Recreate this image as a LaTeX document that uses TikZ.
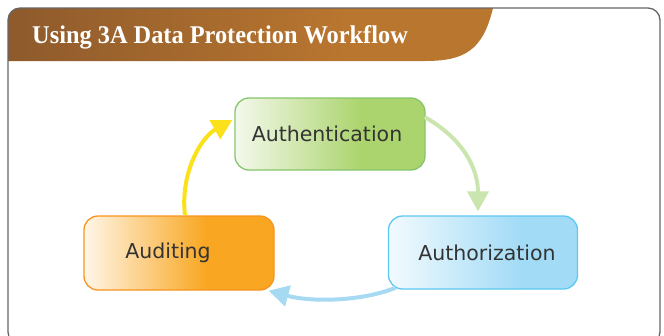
\documentclass[tikz,border=0pt]{standalone}
\usepackage{fontspec}
\setmainfont{Liberation Serif}
\newfontfamily\boxfont{DejaVu Sans}
\usetikzlibrary{arrows.meta}
\definecolor{gL}{HTML}{F4F9EC}
\definecolor{gR}{HTML}{ACD46E}
\definecolor{gB}{HTML}{86C56A}
\definecolor{oL}{HTML}{FFF6E8}
\definecolor{oR}{HTML}{F9A722}
\definecolor{oB}{HTML}{F7941E}
\definecolor{bL}{HTML}{F2FAFE}
\definecolor{bR}{HTML}{A2DBF6}
\definecolor{bB}{HTML}{5CC8F2}
\definecolor{brL}{HTML}{8E5A2C}
\definecolor{brR}{HTML}{B9762F}
\definecolor{agreen}{HTML}{CBE5AE}
\definecolor{ablue}{HTML}{A6D9F2}
\definecolor{ayellow}{HTML}{FBE11A}
\definecolor{frameC}{HTML}{666666}
\definecolor{txt}{HTML}{333333}
\pgfdeclarehorizontalshading{greensh}{100bp}{color(0bp)=(gL); color(25bp)=(gL); color(58bp)=(gR); color(100bp)=(gR)}
\pgfdeclarehorizontalshading{orangesh}{100bp}{color(0bp)=(oL); color(25bp)=(oL); color(57bp)=(oR); color(100bp)=(oR)}
\pgfdeclarehorizontalshading{bluesh}{100bp}{color(0bp)=(bL); color(25bp)=(bL); color(60bp)=(bR); color(100bp)=(bR)}
\pgfdeclarehorizontalshading{brownsh}{100bp}{color(0bp)=(brL); color(25bp)=(brL); color(60bp)=(brR); color(100bp)=(brR)}
\tikzset{
  stagebox/.style={rectangle, rounded corners=14pt, line width=1.3pt, inner sep=0pt,
    font=\boxfont\fontsize{20.5}{24}\selectfont, text=txt},
  flowarrow/.style={line width=4pt, -{Triangle[width=21pt,length=20pt]}},
}
\begin{document}
\begin{tikzpicture}[x=1pt,y=-1pt]
\useasboundingbox (0,0) rectangle (664,335);
% header band
\shade[shading=brownsh] (8,61) -- (8,20) .. controls (8,13.4) and (13.4,8) .. (20,8) -- (493,8)
  .. controls (483,50) and (465,61) .. (425,61) -- cycle;
% frame
\begin{scope}
\clip (0,0) rectangle (664,335);
\draw[frameC, line width=1.3pt] (8,332) -- (8,20) .. controls (8,13.4) and (13.4,8) .. (20,8) -- (648,8)
  .. controls (654.6,8) and (660,13.4) .. (660,20) -- (660,332)
  .. controls (660,338.6) and (654.6,344) .. (648,344) -- (20,344)
  .. controls (13.4,344) and (8,338.6) .. (8,332);
\end{scope}
\node[anchor=base west, inner sep=0pt, text=white, font=\bfseries\fontsize{25.5}{28}\selectfont] (title) at (32,43) {\scalebox{0.955}[1]{Using 3A Data Protection Workflow}};
% boxes
\node[stagebox, shading=greensh, draw=gB, minimum width=190pt, minimum height=72pt] (auth) at (330,134) {\raisebox{-2pt}{Authentication}\hspace*{6pt}};
\node[stagebox, shading=orangesh, draw=oB, minimum width=190pt, minimum height=74pt] (audit) at (179,253) {\raisebox{-1pt}{Auditing}\hspace*{22pt}};
\node[stagebox, shading=bluesh, draw=bB, minimum width=189pt, minimum height=73pt] (authz) at (483,252.5) {\hspace*{8pt}\raisebox{-1pt}{Authorization}};
% arrows
\draw[flowarrow, agreen] ([xshift=-1pt,yshift=17pt]auth.east) .. controls (465,140) and (478,170) .. ([xshift=-5pt,yshift=4pt]authz.north);
\draw[flowarrow, ablue] ([xshift=8pt,yshift=2pt]authz.south west) .. controls (360,302) and (310,302) .. ([xshift=-6pt]audit.south east);
\draw[flowarrow, ayellow] ([xshift=6pt]audit.north) .. controls (180,175) and (200,138) .. ([xshift=-2pt,yshift=14pt]auth.west);
\end{tikzpicture}
\end{document}
